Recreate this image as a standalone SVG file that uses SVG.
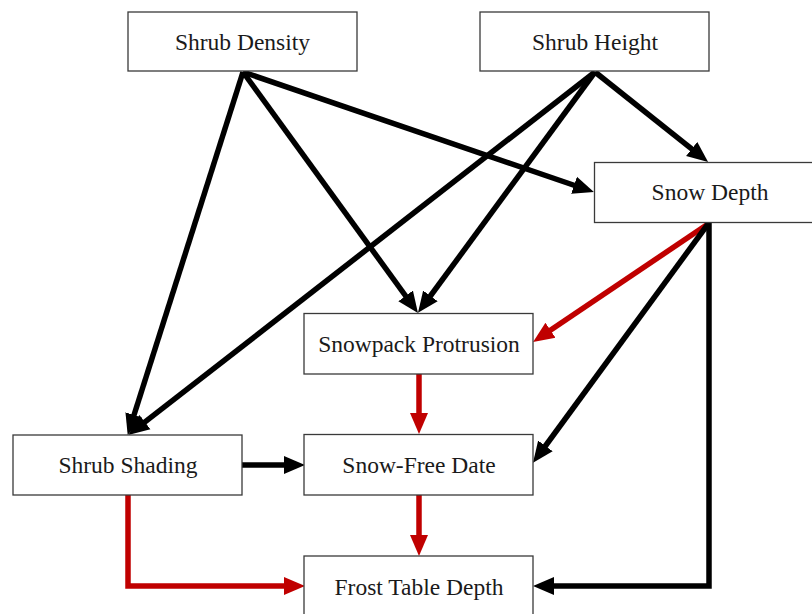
<svg xmlns="http://www.w3.org/2000/svg" width="812" height="614" viewBox="0 0 812 614">
<style>
.box{fill:#fff;stroke:#3a3a3a;stroke-width:1.3}
.lbl{font-family:"Liberation Serif","Times New Roman",serif;font-size:23.5px;fill:#1a1a1a;text-anchor:middle}
.k{fill:none;stroke:#000;stroke-width:5.5;stroke-linejoin:miter}
.r{fill:none;stroke:#c00000;stroke-width:5.5;stroke-linejoin:miter}
</style>
<defs>
<marker id="ak" markerUnits="userSpaceOnUse" markerWidth="24" markerHeight="20" refX="10" refY="9" orient="auto" viewBox="0 0 24 18"><path d="M0,0 L21,9 L0,18 Z" fill="#000"/></marker>
<marker id="ar" markerUnits="userSpaceOnUse" markerWidth="24" markerHeight="20" refX="10" refY="9" orient="auto" viewBox="0 0 24 18"><path d="M0,0 L21,9 L0,18 Z" fill="#c00000"/></marker>
</defs>
<rect width="812" height="614" fill="#fff"/>
<g id="connectors">
<line class="k" x1="243" y1="72" x2="131" y2="424.5" marker-end="url(#ak)"/>
<line class="k" x1="243" y1="72" x2="411.5" y2="304" marker-end="url(#ak)"/>
<line class="k" x1="243" y1="72" x2="583.5" y2="188.5" marker-end="url(#ak)"/>
<line class="k" x1="595" y1="72" x2="699.5" y2="155.2" marker-end="url(#ak)"/>
<line class="k" x1="595" y1="72" x2="424.5" y2="304" marker-end="url(#ak)"/>
<line class="k" x1="595" y1="72" x2="137" y2="428.2" marker-end="url(#ak)"/>
<line class="r" x1="708" y1="224" x2="542.2" y2="335.8" marker-end="url(#ar)"/>
<line class="k" x1="708" y1="224" x2="539.5" y2="454" marker-end="url(#ak)"/>
<polyline class="k" points="709,222 709,586 544,586" marker-end="url(#ak)"/>
<line class="r" x1="419" y1="374" x2="419" y2="423" marker-end="url(#ar)"/>
<line class="r" x1="419" y1="495" x2="419" y2="545" marker-end="url(#ar)"/>
<line class="k" x1="242" y1="465" x2="294" y2="465" marker-end="url(#ak)"/>
<polyline class="r" points="128,495 128,586 294,586" marker-end="url(#ar)"/>
</g>
<g id="shrub-density"><rect class="box" x="128" y="12" width="229" height="59"/><text class="lbl" x="242.5" y="50">Shrub Density</text></g>
<g id="shrub-height"><rect class="box" x="480" y="12" width="229" height="59"/><text class="lbl" x="595" y="50">Shrub Height</text></g>
<g id="snow-depth"><rect class="box" x="594.5" y="162.5" width="229" height="60"/><text class="lbl" x="710" y="200">Snow Depth</text></g>
<g id="snowpack-protrusion"><rect class="box" x="304" y="313.5" width="229" height="60.5"/><text class="lbl" x="419" y="352">Snowpack Protrusion</text></g>
<g id="shrub-shading"><rect class="box" x="13" y="435" width="229" height="60"/><text class="lbl" x="128" y="473">Shrub Shading</text></g>
<g id="snow-free-date"><rect class="box" x="304" y="434.5" width="229" height="60.5"/><text class="lbl" x="419" y="473">Snow-Free Date</text></g>
<g id="frost-table-depth"><rect class="box" x="304" y="556" width="229" height="62"/><text class="lbl" x="419" y="595">Frost Table Depth</text></g>
</svg>
